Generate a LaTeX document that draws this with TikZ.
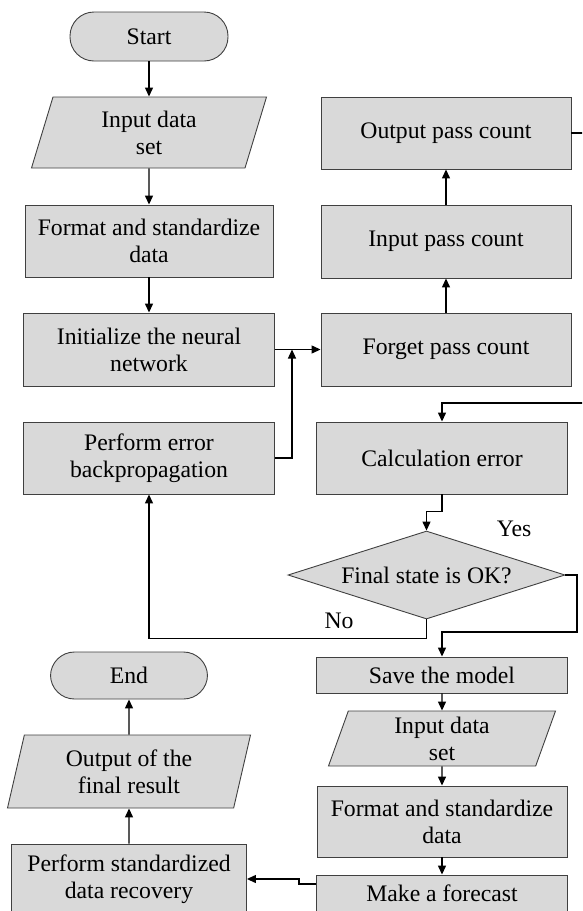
\documentclass[tikz,border=0pt]{standalone}
\usepackage{fontspec}
\setmainfont{Liberation Serif}
\usetikzlibrary{arrows.meta,shapes.geometric,calc}
\definecolor{boxgray}{RGB}{217,217,217}
\begin{document}
\begin{tikzpicture}[x=1pt,y=-1pt,
  every node/.style={font=\fontsize{23.7}{27}\selectfont},
  box/.style={draw=black!75,fill=boxgray,line width=0.9pt,inner sep=0pt,align=center},
  proc/.style={box,rectangle},
  term/.style={box,rectangle,rounded corners=24pt},
  io/.style={box,trapezium,trapezium stretches body=true,
    trapezium left angle=#1,trapezium right angle=180-#1},
  decision/.style={box,diamond,aspect=3.15},
  lbl/.style={inner sep=0pt},
  conn/.style={line width=1.3pt,-{Triangle[length=9pt,width=8pt]}},
  wire/.style={line width=1.3pt}]
\useasboundingbox (0,0) rectangle (582,911);
\clip (0,0) rectangle (582,911);

% training column
\node[term,minimum width=158,minimum height=49] (start) at (149,36.5) {Start};
\node[io=63.8,minimum width=235,minimum height=71] (in1) at (149,132.5) {Input data\\set};
\node[proc,minimum width=248,minimum height=72] (fmt1) at (149,241) {Format and standardize\\data};
\node[proc,minimum width=251,minimum height=73] (init) at (149,349.5) {Initialize the neural\\network};
\node[proc,minimum width=251,minimum height=72] (bp) at (149,458) {Perform error\\backpropagation};

% gate column
\node[proc,minimum width=250,minimum height=72] (out) at (446,133) {Output pass count};
\node[proc,minimum width=250,minimum height=73] (inp) at (446,241.5) {Input pass count};
\node[proc,minimum width=250,minimum height=73] (fgt) at (446,349.5) {Forget pass count};
\node[proc,minimum width=251,minimum height=72] (calc) at (442,458) {Calculation error};
\node[decision,minimum width=277,minimum height=88] (ok) at (426.5,575) {Final state is OK?};
\node[lbl] (yes) at (514,528.5) {Yes};
\node[lbl] (no) at (339,621) {No};

% forecasting column
\node[proc,minimum width=251,minimum height=36] (save) at (442,675) {Save the model};
\node[io=65.6,minimum width=227,minimum height=55] (in2) at (442,738.5) {Input data\\set};
\node[proc,minimum width=250,minimum height=71] (fmt2) at (442,821.5) {Format and standardize\\data};
\node[proc,minimum width=251,minimum height=37] (fc) at (442,893.5) {Make a forecast};

% result column
\node[term,minimum width=157,minimum height=47] (end) at (129,675.5) {End};
\node[io=69,minimum width=243,minimum height=73] (res) at (129,771.5) {Output of the\\final result};
\node[proc,minimum width=235,minimum height=70] (perf) at (129,879) {Perform standardized\\data recovery};

% junction points
\coordinate (j1) at (292,349.5);
\coordinate (rloop) at (600,403);
\coordinate (ybend) at (577,632);
\coordinate (jf) at (299,879);

% connectors
\draw[conn] (start) -- (in1);
\draw[conn] (in1) -- (fmt1);
\draw[conn] (fmt1) -- (init);
\draw[conn] (init.east) -- (fgt.west);
\draw[conn] (bp.east) -| (j1);
\draw[conn] (fgt) -- (inp);
\draw[conn] (inp) -- (out);
\draw[conn] (out.east) -| (rloop) -| (calc.north);
\draw[conn] (calc.south) -- ++(0,17) -| (ok.north);
\draw[conn] (ok.east) -| (ybend) -| (save.north);
\draw[conn] (ok.south) -- ++(0,19) -| (bp.south);
\draw[conn] (save) -- (in2);
\draw[conn] (in2) -- (fmt2);
\draw[conn] (fmt2) -- (fc);
\draw[conn] ($(fc.west)+(0,-9.5)$) -| (jf) -- (perf.east);
\draw[conn] (perf) -- (res);
\draw[conn] (res) -- (end);
\end{tikzpicture}
\end{document}
